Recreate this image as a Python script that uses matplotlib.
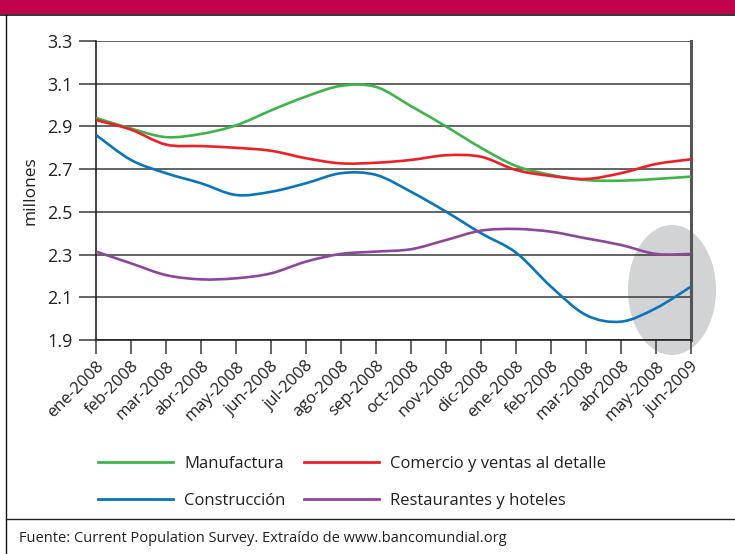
import numpy as np
import matplotlib
matplotlib.use("Agg")
import matplotlib.pyplot as plt
from matplotlib.path import Path
from matplotlib.patches import PathPatch, Ellipse, Rectangle
from matplotlib.lines import Line2D

plt.rcParams['font.family'] = ['Open Sans', 'DejaVu Sans']

months = ["ene-2008", "feb-2008", "mar-2008", "abr-2008", "may-2008", "jun-2008",
          "jul-2008", "ago-2008", "sep-2008", "oct-2008", "nov-2008", "dic-2008",
          "ene-2008", "feb-2008", "mar-2008", "abr2008", "may-2008", "jun-2009"]

manufactura = [2.94, 2.89, 2.85, 2.865, 2.905, 2.975, 3.04, 3.09, 3.085, 2.995, 2.90,
               2.80, 2.715, 2.673, 2.649, 2.646, 2.654, 2.665]
comercio = [2.93, 2.885, 2.815, 2.808, 2.80, 2.786, 2.751, 2.727, 2.73, 2.743, 2.765,
            2.758, 2.696, 2.668, 2.654, 2.681, 2.724, 2.746]
construccion = [2.86, 2.743, 2.681, 2.634, 2.579, 2.594, 2.634, 2.681, 2.673, 2.594,
                2.501, 2.40, 2.309, 2.15, 2.017, 1.986, 2.049, 2.15]
restaurantes = [2.314, 2.259, 2.204, 2.184, 2.189, 2.212, 2.267, 2.303, 2.314, 2.325,
                2.368, 2.412, 2.42, 2.407, 2.376, 2.345, 2.303, 2.303]

series_names = ["Manufactura", "Comercio y ventas al detalle", "Construcción",
                "Restaurantes y hoteles"]
series_vals = [manufactura, comercio, construccion, restaurantes]
colors = ["#3db54a", "#ee1f26", "#0a74bd", "#8e469c"]

W, H = 735, 554
fig = plt.figure(figsize=(W / 100, H / 100), dpi=100)

# Frame / banner
fig.patches.append(Rectangle((0, 1 - 14 / H), 1, 14 / H, transform=fig.transFigure,
                             facecolor="#c0034a", edgecolor="none"))
fig.add_artist(Line2D([0, 1], [1 - 14.5 / H] * 2, transform=fig.transFigure,
                      color="#111111", lw=1.2))
fig.add_artist(Line2D([5.5 / W] * 2, [0, 1 - 14.5 / H], transform=fig.transFigure,
                      color="#111111", lw=1.0))
fig.add_artist(Line2D([5.5 / W, 1], [1 - 519 / H] * 2, transform=fig.transFigure,
                      color="#222222", lw=1.0))

ax = fig.add_axes([96 / W, 1 - 340 / H, (691 - 96) / W, (340 - 41) / H])
ax.set_zorder(1)
x = np.arange(len(months))

# grey highlight ellipse (behind the axes content)
ell = Ellipse((672 / W, 1 - 290 / H), 88 / W, 130 / H, transform=fig.transFigure,
              facecolor="#d2d3d5", edgecolor="none", zorder=0.2)
fig.add_artist(ell)
ax.patch.set_alpha(0)


def smooth_path(xs, ys):
    pts = np.column_stack([xs, ys]).astype(float)
    n = len(pts)
    verts = [pts[0]]
    codes = [Path.MOVETO]
    for i in range(n - 1):
        p0 = pts[i - 1] if i > 0 else pts[i]
        p1 = pts[i]
        p2 = pts[i + 1]
        p3 = pts[i + 2] if i + 2 < n else pts[i + 1]
        c1 = p1 + (p2 - p0) / 6.0
        c2 = p2 - (p3 - p1) / 6.0
        verts += [c1, c2, p2]
        codes += [Path.CURVE4] * 3
    return Path(verts, codes)


for vals, c in zip(series_vals, colors):
    ax.add_patch(PathPatch(smooth_path(x, vals), facecolor="none", edgecolor=c,
                           lw=1.9, zorder=3, capstyle="butt"))

ax.set_xlim(0, len(months) - 1)
ax.set_ylim(1.9, 3.3)
ax.set_yticks(np.arange(1.9, 3.31, 0.2))
ax.set_yticklabels([f"{v:.1f}" for v in np.arange(1.9, 3.31, 0.2)])
ax.set_xticks(x)
ax.set_xticklabels(months, rotation=45, ha="right", rotation_mode="anchor")
ax.yaxis.grid(True, color="#3a3a3a", lw=1.1)
ax.set_axisbelow(True)
ax.tick_params(axis="y", length=12, width=1.1, color="#3a3a3a", pad=5, labelsize=13,
               labelcolor="#222222")
ax.tick_params(axis="x", length=10, width=1.1, color="#3a3a3a", pad=3, labelsize=12,
               labelcolor="#222222")
ax.spines["top"].set_visible(False)
ax.spines["left"].set_color("#222222")
ax.spines["left"].set_linewidth(1.2)
ax.spines["bottom"].set_color("#222222")
ax.spines["bottom"].set_linewidth(1.2)
ax.spines["right"].set_color("#555555")
ax.spines["right"].set_linewidth(2.2)
ax.set_ylabel("millones", fontsize=12.5, color="#222222", labelpad=6)

handles = [Line2D([], [], color=c, lw=2.0) for c in colors]
order = [0, 2, 1, 3]
fig.legend([handles[i] for i in order], [series_names[i] for i in order], ncol=2,
           frameon=False, fontsize=12.0, handlelength=4.5, handletextpad=0.66,
           columnspacing=1.1, labelspacing=1.25, loc="upper left",
           bbox_to_anchor=(83 / W, 1 - 441 / H), labelcolor="#222222")

fig.text(19 / W, 1 - 538 / H, "Fuente: Current Population Survey. Extraído de www.bancomundial.org",
         fontsize=10.5, color="#222222", va="center", ha="left")

fig.savefig("out.png", dpi=100)
